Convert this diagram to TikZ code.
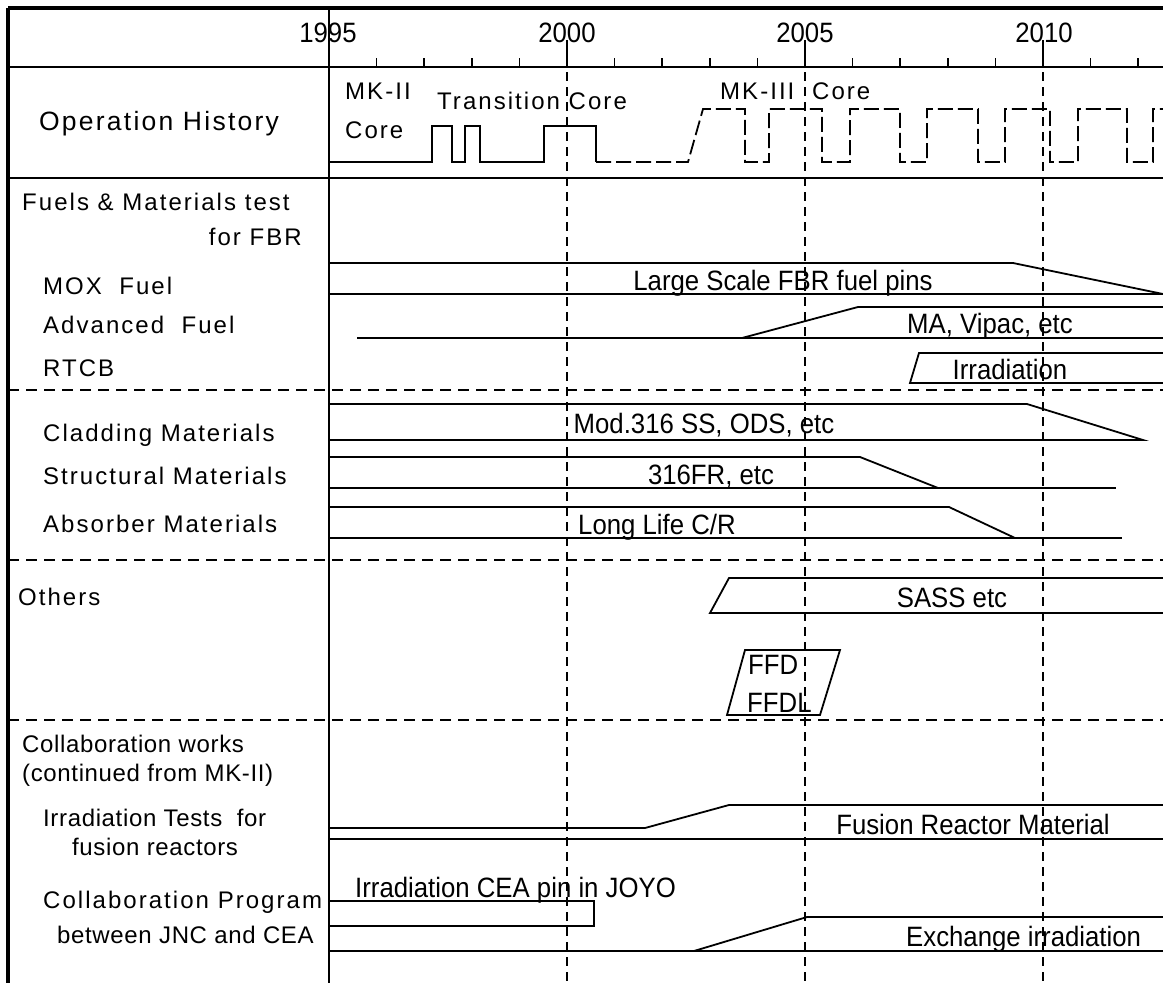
\documentclass[tikz,border=0pt]{standalone}
\usepackage{fontspec}
\setmainfont{Liberation Sans}
\newfontfamily\labfont[LetterSpace=8.5]{Liberation Sans}
\newfontfamily\labtight[LetterSpace=2.7]{Liberation Sans}
\newfontfamily\barfont[FakeStretch=0.92]{Liberation Sans}
\tikzset{
  lab/.style={inner sep=0pt, anchor=base west, font=\labfont\fontsize{24}{28}\selectfont},
  labt/.style={inner sep=0pt, anchor=base west, font=\labtight\fontsize{24}{28}\selectfont},
  barlab/.style={inner sep=0pt, anchor=base, font=\barfont\fontsize{28}{32}\selectfont},
  thinl/.style={line width=1.8pt, line join=miter},
  border/.style={line width=3.6pt},
  sect/.style={line width=1.8pt, dash pattern=on 11pt off 7pt},
  yearl/.style={line width=1.6pt, dash pattern=on 9pt off 6pt},
  mk3/.style={line width=1.8pt, dash pattern=on 15pt off 5pt},
}
\begin{document}
\begin{tikzpicture}[x=1pt,y=-1pt]
\useasboundingbox (0,0) rectangle (1163,983);
\clip (0,0) rectangle (1163,983);
\fill[white] (0,0) rectangle (1163,983);

% frame
\draw[border] (8,8) -- (1170,8);
\draw[border] (8,8) -- (8,990);
\draw[line width=2.2pt] (329,8) -- (329,990);
\draw[thinl] (8,67) -- (1170,67);
\draw[thinl] (8,178) -- (1170,178);
\draw[sect] (8,390) -- (1170,390);
\draw[sect] (8,560) -- (1170,560);
\draw[sect] (8,720) -- (1170,720);

% ticks
\foreach \yr in {1,...,17}{
  \draw[line width=1.5pt] ({329+\yr*47.6},58) -- ({329+\yr*47.6},67);
}
\foreach \yr in {5,10,15}{
  \draw[line width=1.6pt] ({329+\yr*47.6},40) -- ({329+\yr*47.6},67);
  \draw[yearl] ({329+\yr*47.6},72) -- ({329+\yr*47.6},990);
}

% years
\node[barlab] (y1995) at (328,42) {1995};
\node[barlab] (y2000) at (567,42) {2000};
\node[barlab] (y2005) at (805,42) {2005};
\node[barlab] (y2010) at (1044,42) {2010};

% left labels
\node[lab, anchor=base, font=\labfont\fontsize{26.5}{30}\selectfont] (opl) at (159,130) {Operation History};
\node[lab] (fuel1) at (22,210) {Fuels \& Materials test};
\node[lab, anchor=base east] (fuel2) at (302,245) {for FBR};
\node[lab] (mox) at (43,294) {MOX\ \ Fuel};
\node[lab] (adv) at (43,333) {Advanced\ \ Fuel};
\node[lab] (rtcb) at (43,376) {RTCB};
\node[lab] (clad) at (43,441) {Cladding Materials};
\node[lab] (struc) at (43,484) {Structural Materials};
\node[lab] (absb) at (43,532) {Absorber Materials};
\node[lab] (oth) at (18,605) {Others};
\node[labt] (col1) at (22,752) {Collaboration works};
\node[labt] (col2) at (22,781) {(continued from MK-II)};
\node[labt] (irr1) at (43,826) {Irradiation Tests\ \ for};
\node[labt] (irr2) at (72,855) {fusion reactors};
\node[lab] (cp1) at (43,908) {Collaboration Program};
\node[labt, font=\labtight\fontsize{24}{28}\selectfont] (cp2) at (57,943) {between JNC and CEA};

% operation history
\node[lab] (mk2a) at (345,99) {MK-II};
\node[lab] (mk2b) at (345,138) {Core};
\node[lab] (trans) at (437,109) {Transition Core};
\node[lab] (mk3a) at (720,99) {MK-III};
\node[lab] (mk3b) at (812,99) {Core};
\draw[thinl] (329,162) -- (432,162) -- (432,126) -- (452,126) -- (452,162) -- (465,162)
  -- (465,126) -- (480,126) -- (480,162) -- (544,162) -- (544,126) -- (596,126) -- (596,162);
\draw[mk3] (596,162) -- (688,162) -- (703,109) -- (745,109) -- (745,162) -- (769,162)
  -- (769,109) -- (822,109) -- (822,162) -- (850,162) -- (850,109) -- (900,109) -- (900,162)
  -- (927,162) -- (927,109) -- (978,109) -- (978,162) -- (1005,162) -- (1005,109)
  -- (1050,109) -- (1050,162) -- (1078,162) -- (1078,109) -- (1127,109) -- (1127,162)
  -- (1153,162) -- (1153,109) -- (1170,109);

% fuels bars
\draw[thinl] (329,263) -- (1013,263) -- (1163,294);
\draw[thinl] (329,294) -- (1170,294);
\node[barlab] (lsf) at (783,290) {Large Scale FBR fuel pins};
\draw[thinl] (357,338) -- (1170,338);
\draw[thinl] (742,338) -- (858,307) -- (1170,307);
\node[barlab] (mav) at (990,333) {MA, Vipac, etc};
\draw[thinl] (1170,353) -- (919,353) -- (910,383) -- (1170,383);
\node[barlab] (irrr) at (1010,379) {Irradiation};

% materials bars
\draw[thinl] (329,404) -- (1027,404) -- (1143,440) -- (329,440);
\node[barlab] (mod) at (704,433) {Mod.316 SS, ODS, etc};
\draw[thinl] (329,457) -- (860,457) -- (938,488);
\draw[thinl] (329,488) -- (1116,488);
\node[barlab] (fr) at (711,484) {316FR, etc};
\draw[thinl] (329,507) -- (949,507) -- (1015,538);
\draw[thinl] (329,538) -- (1122,538);
\node[barlab] (llc) at (657,534) {Long Life C/R};

% others
\draw[thinl] (1170,578) -- (729,578) -- (710,613) -- (1170,613);
\node[barlab] (sass) at (952,607) {SASS etc};
\draw[thinl] (745,650) -- (840,650) -- (820,715) -- (727,715) -- cycle;
\node[barlab, anchor=base west] (ffd) at (748,674) {FFD};
\node[barlab, anchor=base west] (ffdl) at (747,712) {FFDL};

% collaboration
\draw[thinl] (329,828) -- (645,828) -- (729,805) -- (1170,805);
\draw[thinl] (329,839) -- (1170,839);
\node[barlab] (fus) at (973,834) {Fusion Reactor Material};
\draw[thinl] (329,901) -- (594,901) -- (594,926) -- (329,926);
\node[barlab, anchor=base west] (cea) at (355,897) {Irradiation CEA pin in JOYO};
\draw[thinl] (329,951) -- (1170,951);
\draw[thinl] (694,951) -- (807,917) -- (1170,917);
\node[barlab, anchor=base west] (exc) at (906,946) {Exchange irradiation};
\end{tikzpicture}
\end{document}
